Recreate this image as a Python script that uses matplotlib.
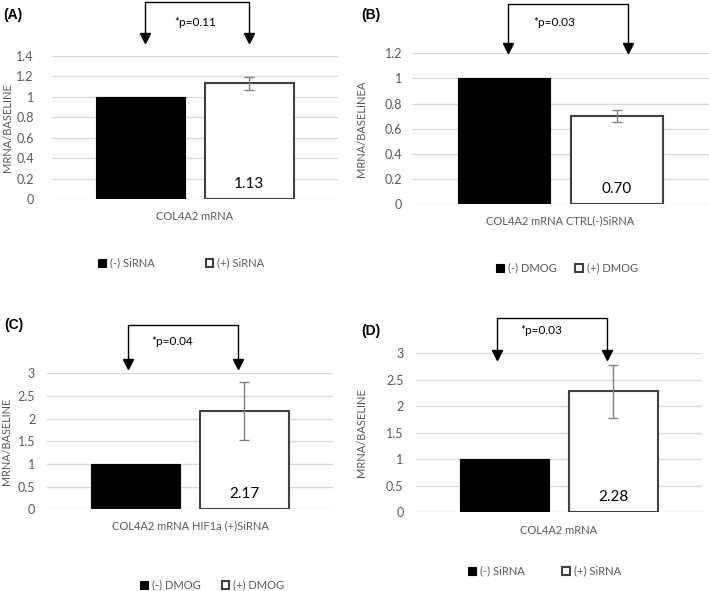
import matplotlib
matplotlib.use("Agg")
import matplotlib.pyplot as plt
from matplotlib.ticker import FuncFormatter, MultipleLocator
import numpy as np

# ---- data ----
panel_tags = ["(A)", "(B)", "(C)", "(D)"]
neg_values = [1.0, 1.0, 1.0, 1.0]
pos_values = [1.13, 0.70, 2.17, 2.28]
pos_errors = [0.065, 0.045, 0.64, 0.50]
value_labels = ["1.13", "0.70", "2.17", "2.28"]
p_labels = ["*p=0.11", "*p=0.03", "*p=0.04", "*p=0.03"]
x_labels = ["COL4A2 mRNA", "COL4A2 mRNA CTRL(-)SiRNA",
            "COL4A2 mRNA HIF1a (+)SiRNA", "COL4A2 mRNA"]
y_labels = ["MRNA/BASELINE", "MRNA/BASELINEA", "MRNA/BASELINE", "MRNA/BASELINE"]
legend_neg = ["(-) SiRNA", "(-) DMOG", "(-) DMOG", "(-) SiRNA"]
legend_pos = ["(+) SiRNA", "(+) DMOG", "(+) DMOG", "(+) SiRNA"]
y_max = [1.4, 1.2, 3.0, 3.0]
y_step = [0.2, 0.2, 0.5, 0.5]

# ---- layout (pixels, y from top) ----
W, H = 709, 591
axes_px = [  # left, right, top(ymax), bottom(0)
    (52, 338, 55.7, 199.3),
    (412, 709, 53.3, 204.0),
    (47, 333, 373.3, 509.3),
    (416, 702, 353.3, 512.3),
]
tag_px = [(3, 15), (361, 15), (4, 325), (361, 331)]
xlabel_px = [(195, 216), (560, 221), (190, 526), (559, 530)]
ylabel_off = [-0.136, -0.152, -0.124, -0.171]
tick_pad = [13, 7, 8.5, 9]
legend_px = [(98, 263), (496, 268), (140, 585), (468, 571)]
legend_colsp = [4.6, 1.7, 1.9, 3.4]
# bracket: left offset, right offset (data), top y, tip y, text y (axes fraction), text x
bracket = [
    (0.015, 0.0, 1.376, 1.097, 1.234, 0.0),
    (0.013, 0.037, 1.327, 1.008, 1.207, -0.022),
    (-0.027, -0.022, 1.356, 1.042, 1.233, -0.063),
    (-0.027, -0.022, 1.224, 0.962, 1.142, -0.063),
]

FONT = ["Lato", "DejaVu Sans"]
GRAY = "#595959"

fig = plt.figure(figsize=(W / 100, H / 100), dpi=100)
fig.patch.set_facecolor("white")

def fx(x):
    return x / W

def fy(y):
    return 1 - y / H

xpos = np.array([-0.19, 0.19])
bw = 0.31

for i in range(4):
    l, r, t, b = axes_px[i]
    ax = fig.add_axes([fx(l), fy(b), (r - l) / W, (b - t) / H])
    ax.set_xlim(-0.5, 0.5)
    ax.set_ylim(0, y_max[i])
    ax.yaxis.set_major_locator(MultipleLocator(y_step[i]))
    ax.yaxis.set_major_formatter(FuncFormatter(lambda v, p: f"{v:g}"))
    for s in ax.spines.values():
        s.set_visible(False)
    ax.grid(axis="y", color="#d9d9d9", lw=1.0)
    ax.set_axisbelow(True)
    ax.set_xticks([])
    ax.tick_params(axis="y", length=0, pad=tick_pad[i], labelsize=9, labelcolor=GRAY)
    for lab in ax.get_yticklabels():
        lab.set_family(FONT)

    b1 = ax.bar(xpos[0], neg_values[i], bw, color="black", edgecolor="black", lw=0.8,
                label=legend_neg[i], zorder=2)
    b2 = ax.bar(xpos[1], pos_values[i], bw, color="white", edgecolor="#404040", lw=1.5,
                label=legend_pos[i], zorder=2)
    ax.errorbar(xpos[1], pos_values[i], yerr=pos_errors[i], fmt="none", ecolor="#808080",
                elinewidth=1.0, capsize=3.3, capthick=1.0, zorder=3)
    ax.annotate(value_labels[i], xy=(xpos[1], 0), xytext=(0, 11), textcoords="offset points",
                ha="center", va="center", fontsize=11, family=FONT, color="black")

    ax.set_ylabel(y_labels[i], fontsize=7.8 if i == 2 else 8, color=GRAY, family=FONT)
    ax.yaxis.set_label_coords(ylabel_off[i], 0.5)

    # bracket
    lo, ro, ty, tipy, txy, txx = bracket[i]
    trans = ax.get_xaxis_transform()
    xl = xpos[0] + lo
    xr = xpos[1] + ro
    ax.plot([xl, xl, xr, xr], [tipy + 0.04, ty, ty, tipy + 0.04], color="black", lw=1.0,
            transform=trans, clip_on=False)
    ax.plot([xl, xr], [tipy + 0.025, tipy + 0.025], ls="none", marker="v", ms=6.5,
            color="black", transform=trans, clip_on=False)
    ax.text(txx, txy, p_labels[i], ha="center", va="center", fontsize=8.5, family=FONT,
            transform=trans)

    fig.text(fx(xlabel_px[i][0]), fy(xlabel_px[i][1]), x_labels[i], ha="center", va="center",
             fontsize=8, color=GRAY, family=FONT)
    fig.text(fx(tag_px[i][0]), fy(tag_px[i][1]), panel_tags[i], ha="left", va="center",
             fontsize=10, fontweight="bold", family=["Liberation Sans", "DejaVu Sans"])

    leg = ax.legend(handles=[b1, b2], loc="center left",
                    bbox_to_anchor=(fx(legend_px[i][0]), fy(legend_px[i][1])),
                    bbox_transform=fig.transFigure, ncol=2, frameon=False,
                    handlelength=0.7, handleheight=0.7, handletextpad=0.35,
                    columnspacing=legend_colsp[i], borderpad=0, borderaxespad=0,
                    prop={"family": FONT, "size": 8})
    for txt in leg.get_texts():
        txt.set_color(GRAY)

fig.savefig("out.png", dpi=100, facecolor="white")
